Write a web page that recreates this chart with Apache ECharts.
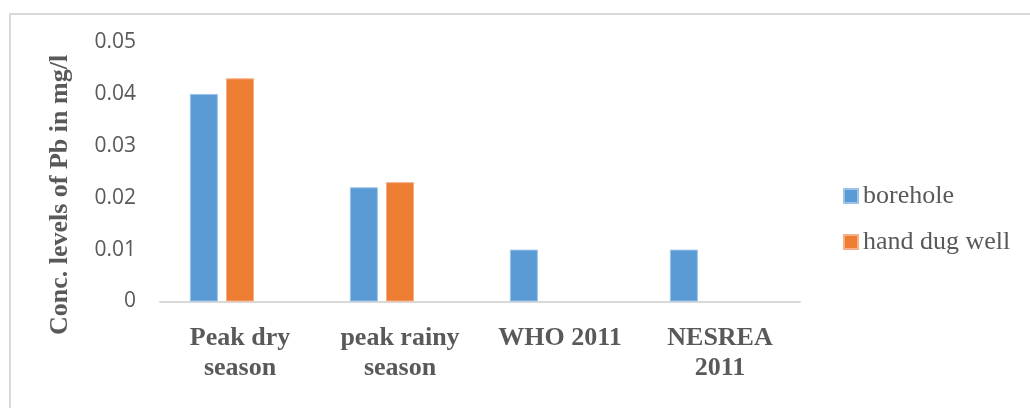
<!DOCTYPE html>
<html>
<head>
<meta charset="utf-8">
<script src="https://cdn.jsdelivr.net/npm/echarts@6/dist/echarts.min.js"></script>
<style>
  html, body { margin: 0; padding: 0; background: #ffffff; }
  #chart { width: 1030px; height: 408px; }
</style>
</head>
<body>
<div id="chart"></div>
<script>
// Pb concentrations (mg/l) by sampling period and reference standard
const categories = ['Peak dry\nseason', 'peak rainy\nseason', 'WHO 2011', 'NESREA\n2011'];
const borehole = [0.04, 0.022, 0.01, 0.01];
const handDugWell = [0.043, 0.023, null, null];
// third, empty column kept in each cluster
const spare = [null, null, null, null];
const yTicks = { min: 0, max: 0.05, interval: 0.01 };

const TEXT = '#595959';
const chart = echarts.init(document.getElementById('chart'), null, { renderer: 'canvas' });

chart.setOption({
  animation: false,
  backgroundColor: '#ffffff',
  grid: { left: 160, right: 230, top: 42, bottom: 106.5, containLabel: false },
  legend: {
    data: ['borehole', 'hand dug well'],
    orient: 'vertical',
    left: 838,
    top: 178,
    itemWidth: 14,
    itemHeight: 14,
    itemGap: 20,
    icon: 'rect',
    textStyle: { fontFamily: '"Liberation Serif", "Times New Roman", serif', fontSize: 26, color: TEXT }
  },
  xAxis: {
    type: 'category',
    data: categories,
    axisLine: { lineStyle: { color: '#d9d9d9', width: 2 } },
    axisTick: { show: false },
    axisLabel: {
      interval: 0,
      margin: 22,
      fontFamily: '"Liberation Serif", "Times New Roman", serif',
      fontWeight: 'bold',
      fontSize: 26,
      lineHeight: 30,
      color: TEXT
    }
  },
  yAxis: {
    type: 'value',
    min: yTicks.min,
    max: yTicks.max,
    interval: yTicks.interval,
    axisLine: { show: false },
    axisTick: { show: false },
    splitLine: { show: false },
    axisLabel: {
      margin: 24,
      fontFamily: '"Open Sans", sans-serif',
      fontSize: 21,
      color: TEXT,
      formatter: v => (v === 0 ? '0' : v.toFixed(2))
    }
  },
  graphic: [
    {
      type: 'rect',
      shape: { x: 10, y: 14, width: 1200, height: 600 },
      style: { fill: 'none', stroke: '#d9d9d9', lineWidth: 2 },
      silent: true
    },
    {
      type: 'text',
      x: 60,
      y: 195,
      rotation: Math.PI / 2,
      style: {
        text: 'Conc. levels of Pb in mg/l',
        font: 'bold 26px "Liberation Serif", "Times New Roman", serif',
        fill: TEXT,
        align: 'center',
        verticalAlign: 'middle'
      }
    }
  ],
  series: [
    {
      name: 'borehole',
      type: 'bar',
      data: borehole,
      barWidth: 28,
      barGap: '29%',
      itemStyle: { color: '#5B9BD5', borderColor: '#9cc3e8', borderWidth: 1 }
    },
    {
      name: 'hand dug well',
      type: 'bar',
      data: handDugWell,
      barWidth: 28,
      barGap: '29%',
      itemStyle: { color: '#ED7D31', borderColor: '#f5b088', borderWidth: 1 }
    },
    {
      name: 'spare',
      type: 'bar',
      data: spare,
      barWidth: 28,
      barGap: '29%',
      itemStyle: { color: '#A5A5A5' }
    }
  ]
});
</script>
</body>
</html>
